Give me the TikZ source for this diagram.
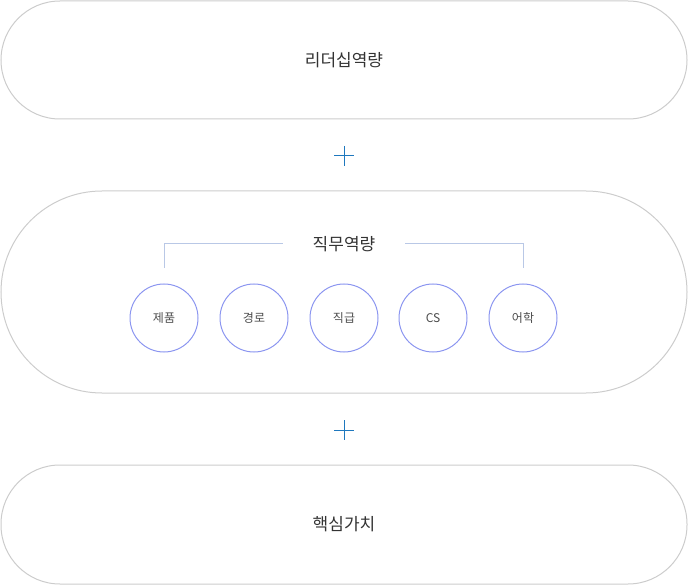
\documentclass[tikz,border=0pt]{standalone}
\usepackage{fontspec}
\newfontfamily\cjk{Noto Sans CJK KR}
\begin{document}
\begin{tikzpicture}[x=1pt,y=-1pt,
  pill/.style={draw=black!20,line width=1pt},
  circ/.style={circle,draw={rgb,255:red,140;green,150;blue,240},line width=1pt,minimum size=68pt,inner sep=0pt,font=\cjk\fontsize{12}{12}\selectfont,text=black!70},
  lbl/.style={font=\cjk\fontsize{17}{17}\selectfont,text=black!80},
  plus/.style={draw={rgb,255:red,30;green,120;blue,190},line width=1pt}]
\useasboundingbox (0,0) rectangle (688,585);
\draw[pill,rounded corners=59] (1,1) rectangle (687,119);
\draw[pill,rounded corners=101] (1,191) rectangle (687,393);
\draw[pill,rounded corners=59] (1,465) rectangle (687,584);
\node[lbl] (t1) at (344,60) {리더십역량};
\node[lbl] (t2) at (344,244) {직무역량};
\node[lbl] (t3) at (344,524) {핵심가치};
\foreach \n/\x/\t in {a/164/제품,b/254/경로,c/344/직급,d/433/CS,e/523/어학}
  \node[circ] (\n) at (\x,318) {\t};
\coordinate (la) at (164,243); \coordinate (ra) at (523,243);
\draw[draw={rgb,255:red,185;green,200;blue,230},line width=0.8pt] (164,268) -- (la) -- (283,243);
\draw[draw={rgb,255:red,185;green,200;blue,230},line width=0.8pt] (405,243) -- (ra) -- (523,268);
\foreach \y in {156,430}{
  \draw[plus] (334,\y) -- (354,\y);
  \draw[plus] (344,\y-10) -- (344,\y+10);}
\end{tikzpicture}
\end{document}
